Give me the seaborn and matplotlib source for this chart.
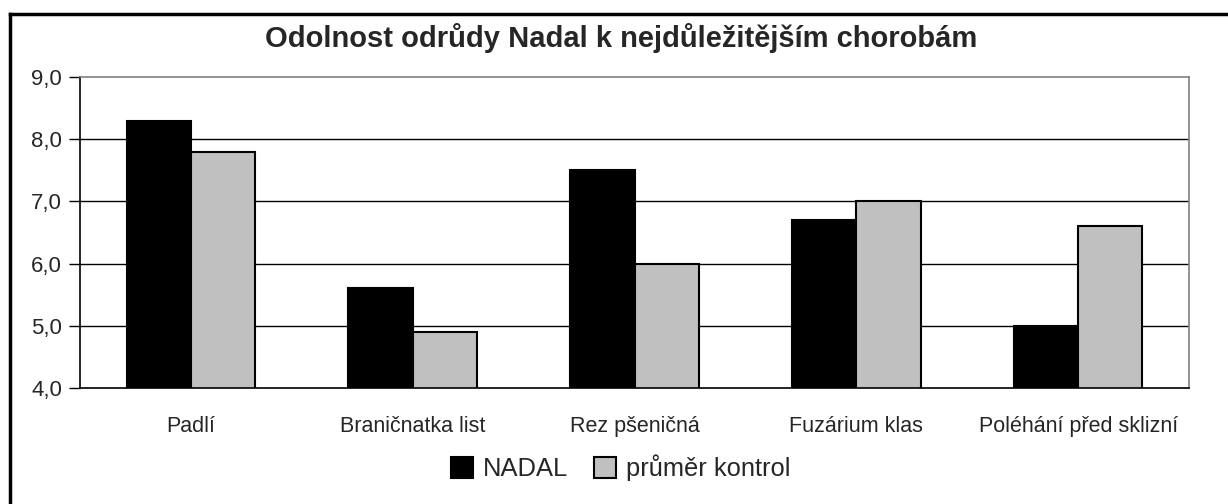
import matplotlib
matplotlib.use("Agg")
import matplotlib.pyplot as plt
import seaborn as sns
import pandas as pd
from matplotlib.patches import Patch
from matplotlib.lines import Line2D

categories = ["Padlí", "Braničnatka list", "Rez pšeničná", "Fuzárium klas", "Poléhání před sklizní"]
nadal = [8.3, 5.6, 7.5, 6.7, 5.0]
kontrol = [7.8, 4.9, 6.0, 7.0, 6.6]
series_names = ["NADAL", "průměr kontrol"]
yticks = [4.0, 5.0, 6.0, 7.0, 8.0, 9.0]
title = "Odolnost odrůdy Nadal k nejdůležitějším chorobám"

sns.set_theme(style="white")
plt.rcParams["font.family"] = ["Liberation Sans", "DejaVu Sans"]

df = pd.DataFrame({
    "cat": categories * 2,
    "val": nadal + kontrol,
    "ser": [series_names[0]] * len(categories) + [series_names[1]] * len(categories),
})

colors = ["#000000", "#C0C0C0"]
fig = plt.figure(figsize=(12.28, 5.04), dpi=100)
ax = fig.add_axes([80 / 1228, 1 - 388 / 504, (1189 - 80) / 1228, (388 - 77) / 504])

for y in yticks[1:-1]:
    ax.axhline(y, color="black", lw=1.0, zorder=0)

sns.barplot(data=df, x="cat", y="val", hue="ser", palette=colors, width=0.58,
            edgecolor="black", linewidth=1.5, ax=ax, legend=False, zorder=2)

ax.set_ylim(4.0, 9.0)
ax.set_xlim(-0.5, len(categories) - 0.5)
ax.set_yticks(yticks)
ax.set_yticklabels([f"{v:.1f}".replace(".", ",") for v in yticks], fontsize=16)
ax.set_xticks(range(len(categories)))
ax.set_xticklabels(categories, fontsize=15.5)
ax.set_xticks([i - 0.5 for i in range(len(categories) + 1)], minor=True)
ax.tick_params(axis="x", which="major", length=0, pad=20)
ax.tick_params(axis="x", which="minor", length=10, width=1.0, color="black", direction="out")
ax.tick_params(axis="y", length=8, width=1.0, color="black", direction="out", pad=5, left=True)
ax.set_xlabel("")
ax.set_ylabel("")
for s in ["left", "bottom"]:
    ax.spines[s].set_color("black")
    ax.spines[s].set_linewidth(1.2)
for s in ["top", "right"]:
    ax.spines[s].set_color("#808080")
    ax.spines[s].set_linewidth(1.2)

fig.text(621 / 1228, 1 - 38 / 504, title, ha="center", va="center",
         fontsize=21, fontweight="bold")

handles = [Patch(facecolor=c, edgecolor="black", linewidth=1.5) for c in colors]
fig.legend(handles, series_names, loc="center", bbox_to_anchor=(621 / 1228, 1 - 468 / 504),
           ncol=2, frameon=False, fontsize=18.4, handlelength=0.85, handleheight=0.85,
           handletextpad=0.4, columnspacing=1.0)

# outer border (left & top visible)
fig.add_artist(Line2D([9.5 / 1228, 9.5 / 1228], [0, 1 - 13.5 / 504], color="black", lw=2.5,
                      transform=fig.transFigure, solid_capstyle="projecting"))
fig.add_artist(Line2D([9.5 / 1228, 1], [1 - 13.5 / 504, 1 - 13.5 / 504], color="black", lw=2.5,
                      transform=fig.transFigure, solid_capstyle="projecting"))

fig.savefig("out.png", dpi=100)
